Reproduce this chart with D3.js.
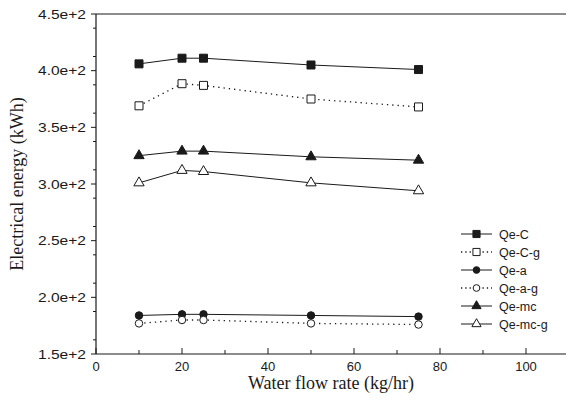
<!DOCTYPE html>
<html>
<head>
<meta charset="utf-8">
<script src="https://cdn.jsdelivr.net/npm/d3@7"></script>
<style>
  html, body { margin: 0; padding: 0; background: #fff; }
  svg { display: block; }
</style>
</head>
<body>
<svg id="chart" width="566" height="400"></svg>
<script>
// ---------------- data ----------------
const xValues = [10, 20, 25, 50, 75];
const seriesNames = ["Qe-C", "Qe-C-g", "Qe-a", "Qe-a-g", "Qe-mc", "Qe-mc-g"];
const qeC   = [406, 411, 411, 405, 401];
const qeCg  = [369, 388.5, 387, 375, 368];
const qeA   = [184, 185, 185, 184, 183];
const qeAg  = [177, 180, 180, 177, 176];
const qeMc  = [325, 329, 329, 324, 321];
const qeMcg = [301, 312, 311, 301, 294];
const xTicks = [0, 20, 40, 60, 80, 100];
const yTicks = [150, 200, 250, 300, 350, 400, 450];
const yTickLabels = ["1.5e+2", "2.0e+2", "2.5e+2", "3.0e+2", "3.5e+2", "4.0e+2", "4.5e+2"];
const xTitle = "Water flow rate (kg/hr)";
const yTitle = "Electrical energy (kWh)";

(function () {
const seriesValues = [qeC, qeCg, qeA, qeAg, qeMc, qeMcg];
const styles = [
  {shape: d3.symbolSquare,   size: 64, filled: true,  dotted: false},
  {shape: d3.symbolSquare,   size: 64, filled: false, dotted: true},
  {shape: d3.symbolCircle,   size: 44, filled: true,  dotted: false},
  {shape: d3.symbolCircle,   size: 44, filled: false, dotted: true},
  {shape: d3.symbolTriangle, size: 46, filled: true,  dotted: false},
  {shape: d3.symbolTriangle, size: 46, filled: false, dotted: false}
];

const ink = "#1a1a1a";
const svg = d3.select("#chart");

const mLeft = 96, mRight = 566, mTop = 14, mBottom = 354;
const x = d3.scaleLinear().domain([0, 109.3]).range([mLeft, mRight]);
const y = d3.scaleLinear().domain([150, 450]).range([mBottom, mTop]);

// top frame
svg.append("line").attr("x1", mLeft).attr("x2", mRight).attr("y1", mTop).attr("y2", mTop)
  .attr("stroke", ink).attr("stroke-width", 1);

// x axis (ticks inside)
const xAxis = svg.append("g").attr("transform", `translate(0,${mBottom})`);
xAxis.append("line").attr("x1", mLeft).attr("x2", mRight).attr("stroke", ink).attr("stroke-width", 1.2);
const xMinor = d3.range(10, 110, 20);
xAxis.selectAll(".xmaj").data(xTicks).enter().append("line")
  .attr("x1", d => x(d)).attr("x2", d => x(d)).attr("y1", 0).attr("y2", -6)
  .attr("stroke", ink);
xAxis.selectAll(".xmin").data(xMinor).enter().append("line")
  .attr("x1", d => x(d)).attr("x2", d => x(d)).attr("y1", 0).attr("y2", -4)
  .attr("stroke", ink);
xAxis.selectAll(".xlab").data(xTicks).enter().append("text")
  .attr("x", d => x(d)).attr("y", 17)
  .attr("text-anchor", "middle")
  .attr("font-family", "Liberation Sans, Arial, sans-serif")
  .attr("font-size", 13).attr("fill", ink)
  .text(d => d);

// y axis (ticks outside)
const yAxis = svg.append("g").attr("transform", `translate(${mLeft},0)`);
yAxis.append("line").attr("y1", mTop).attr("y2", mBottom).attr("stroke", ink).attr("stroke-width", 1.2);
const yMinor = d3.range(162.5, 450, 25);
yAxis.selectAll(".ymaj").data(yTicks).enter().append("line")
  .attr("y1", d => y(d)).attr("y2", d => y(d)).attr("x1", 0).attr("x2", -5)
  .attr("stroke", ink);
yAxis.selectAll(".ymin").data(yMinor).enter().append("line")
  .attr("y1", d => y(d)).attr("y2", d => y(d)).attr("x1", 0).attr("x2", -3)
  .attr("stroke", ink);
yAxis.selectAll(".ylab").data(yTicks).enter().append("text")
  .attr("x", -58).attr("y", d => y(d) + 4.5)
  .attr("font-family", "Liberation Sans, Arial, sans-serif")
  .attr("font-size", 12.5).attr("fill", ink)
  .attr("textLength", 48).attr("lengthAdjust", "spacingAndGlyphs")
  .text((d, i) => yTickLabels[i]);

// titles
svg.append("text")
  .attr("x", (mLeft + mRight) / 2).attr("y", 389)
  .attr("text-anchor", "middle")
  .attr("font-family", "Liberation Serif, Times New Roman, serif")
  .attr("font-size", 18).attr("fill", ink)
  .text(xTitle);
svg.append("text")
  .attr("transform", `translate(23,${(mTop + mBottom) / 2}) rotate(-90)`)
  .attr("text-anchor", "middle")
  .attr("font-family", "Liberation Serif, Times New Roman, serif")
  .attr("font-size", 18).attr("fill", ink)
  .text(yTitle);

// series
const line = d3.line().x((d, i) => x(xValues[i])).y(d => y(d));
seriesValues.forEach((vals, si) => {
  const st = styles[si];
  const g = svg.append("g");
  g.append("path").datum(vals)
    .attr("d", line)
    .attr("fill", "none")
    .attr("stroke", ink)
    .attr("stroke-width", st.dotted ? 1.3 : 1)
    .attr("stroke-dasharray", st.dotted ? "1.3,4" : null);
  g.selectAll("path.m").data(vals).enter().append("path")
    .attr("class", "m")
    .attr("transform", (d, i) => `translate(${x(xValues[i])},${y(d)})`)
    .attr("d", d3.symbol().type(st.shape).size(st.size))
    .attr("fill", st.filled ? ink : "#fff")
    .attr("stroke", ink).attr("stroke-width", 1);
});

// legend
const legend = svg.append("g");
seriesNames.forEach((name, i) => {
  const st = styles[i];
  const ly = 234 + i * 18;
  legend.append("line")
    .attr("x1", 461).attr("x2", 492).attr("y1", ly).attr("y2", ly)
    .attr("stroke", ink).attr("stroke-width", st.dotted ? 1.3 : 1)
    .attr("stroke-dasharray", st.dotted ? "1.3,3" : null);
  legend.append("path")
    .attr("transform", `translate(476.5,${ly})`)
    .attr("d", d3.symbol().type(st.shape).size(st.size * 0.8))
    .attr("fill", st.filled ? ink : "#fff")
    .attr("stroke", ink).attr("stroke-width", 1);
  legend.append("text")
    .attr("x", 499).attr("y", ly + 4.5)
    .attr("font-family", "Liberation Sans, Arial, sans-serif")
    .attr("font-size", 12.5).attr("fill", ink)
    .text(name);
});
})();
</script>
</body>
</html>
